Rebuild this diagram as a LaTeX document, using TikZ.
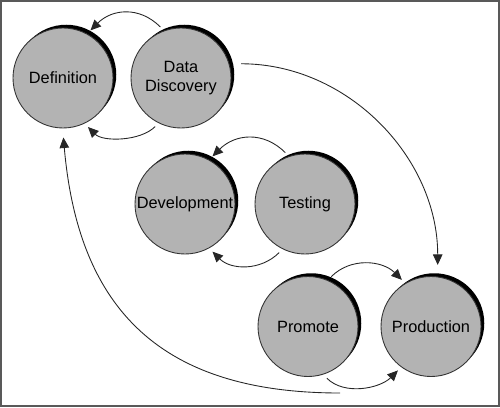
\documentclass[tikz,border=0pt]{standalone}
\usepackage{fontspec}
\setmainfont{Liberation Sans}
\usetikzlibrary{arrows.meta,shadows}
\definecolor{stagefill}{HTML}{B3B3B3}

\begin{document}
\begin{tikzpicture}[font=\fontsize{9.3}{11}\selectfont,
  s/.style={circle,draw=black!80,line width=0.5pt,fill=stagefill,minimum size=2cm,inner sep=0pt,outer sep=0.1cm,align=center,
    general shadow={fill=black,shadow xshift=0.065cm,shadow yshift=0.065cm}},
  a/.style={-{Triangle[length=2.1mm,width=1.9mm]},line width=0.5pt,black!85}]
\useasboundingbox (0,0) rectangle (10,8.14);
\draw[black!65,line width=0.04cm] (0.02,0.02) rectangle (9.98,8.12);
\node[s] (def) at (1.26,6.58) {Definition};
\node[s] (dd) at (3.62,6.58) {Data\\Discovery};
\node[s] (dev) at (3.70,4.06) {Development};
\node[s] (test) at (6.10,4.06) {Testing};
\node[s] (prom) at (6.16,1.61) {Promote};
\node[s] (prod) at (8.62,1.61) {Production};
\coordinate (back) at (6.80,0.28);
\draw[a] (dd.112) to[out=135,in=45,looseness=1.1] (def.60);
\draw[a] (dd.242) to[out=-135,in=-45,looseness=0.8] (def.-63);
\draw[a] (test.111) to[out=135,in=45,looseness=1.1] (dev.60);
\draw[a] (test.242) to[out=-135,in=-45] (dev.-60);
\draw[a] (prom.65) to[out=45,in=135] (prod.122);
\draw[a] (prom.-70) to[out=-45,in=-135,looseness=0.9] (prod.-127);
\draw[a,shorten <=0.14cm,shorten >=0.14cm] (dd.15) to[out=0,in=90] (prod.83);
\draw[a,shorten >=0.09cm] (back) to[out=180,in=-85,looseness=1.2] (def.-90);
\end{tikzpicture}
\end{document}
